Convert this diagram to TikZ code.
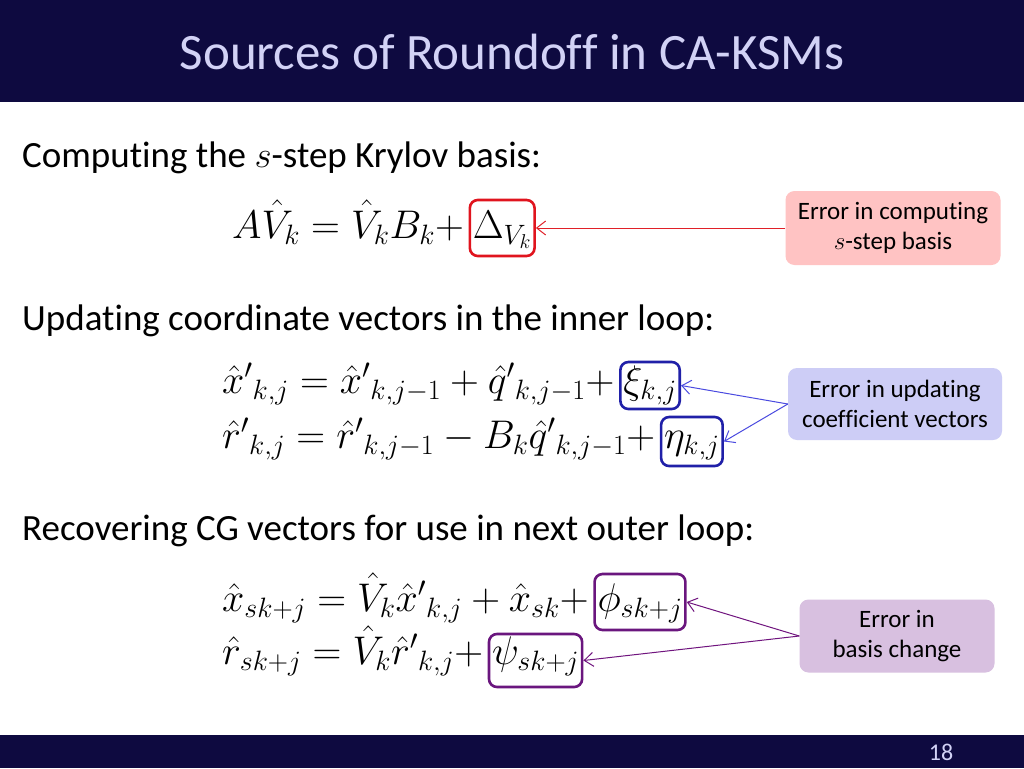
\RequirePackage{fix-cm}
\documentclass[tikz,border=0pt]{standalone}
\usepackage{amsmath}
\usepackage{fontspec}
\setmainfont{Carlito}[Ligatures=NoCommon]
\usetikzlibrary{arrows.meta}
\definecolor{navy}{HTML}{0E0A40}
\definecolor{titletext}{HTML}{D2D2F6}
\definecolor{pinkbox}{HTML}{FFC3C3}
\definecolor{bluebox}{HTML}{CDCDF6}
\definecolor{purplebox}{HTML}{D8C0E0}
\definecolor{boxred}{HTML}{E0141E}
\definecolor{boxblue}{HTML}{2020A8}
\definecolor{boxpurple}{HTML}{6A167E}
\definecolor{arrred}{HTML}{E02028}
\definecolor{arrblue}{HTML}{4A4AE0}
\definecolor{arrpurple}{HTML}{70147E}
\newcommand{\pr}[1]{{#1'}{}}
\newcommand{\pl}{+\mkern2mu}
\tikzset{
  bodytext/.style={anchor=base west, inner sep=0pt, font=\fontsize{37}{44}\selectfont},
  eqn/.style={anchor=base west, inner sep=0pt, font=\fontsize{40}{48}\selectfont},
  errbox/.style={anchor=base west, draw, line width=2.6pt, rounded corners=8pt, inner xsep=3pt, inner ysep=4pt, font=\fontsize{40}{48}\selectfont},
  callout/.style={rounded corners=9pt, align=center, font=\fontsize{25}{30}\selectfont, text=black},
  link/.style={line width=1pt, -{Straight Barb[length=9pt,width=14pt]}}
}
\begin{document}
\begin{tikzpicture}[x=1pt,y=-1pt]
\useasboundingbox (0,0) rectangle (1024,768);
\fill[white] (0,0) rectangle (1024,768);
\fill[navy] (0,0) rectangle (1024,102);
\fill[navy] (0,735) rectangle (1024,768);
\node (title) [anchor=base, inner sep=0pt, text=titletext, font=\fontsize{51}{60}\selectfont] at (512,70) {Sources of Roundoff in CA-KSMs};
\node (page) [anchor=base, inner sep=0pt, text=titletext, font=\fontsize{24}{28}\selectfont] at (941,760) {18};

% section 1
\node (h1) [bodytext] at (22,167) {Computing the $s$-step Krylov basis:};
\node (eq1) [eqn] at (232,238) {$A\hat{V}_k = \hat{V}_k B_k \pl$};
\node (d1) [errbox, draw=boxred, text height=34pt, text depth=14pt] at (eq1.base east) {$\Delta_{V_k}$};
\node (c1) [callout, fill=pinkbox, minimum width=215pt, minimum height=74pt] at (893,228) {Error in computing\\$s$-step basis};
\draw[link, arrred] (c1.west) -- (d1.east);

% section 2
\node (h2) [bodytext] at (22,330) {Updating coordinate vectors in the inner loop:};
\node (eq2a) [eqn] at (222,393) {$\pr{\hat{x}}_{k,j} = \pr{\hat{x}}_{k,j-1} + \pr{\hat{q}}_{k,j-1} \pl$};
\node (xi) [errbox, draw=boxblue, text height=27pt, text depth=12pt] at (eq2a.base east) {$\xi_{k,j}$};
\node (eq2b) [eqn] at (222,448) {$\pr{\hat{r}}_{k,j} = \pr{\hat{r}}_{k,j-1} - B_k\pr{\hat{q}}_{k,j-1} \pl$};
\node (eta) [errbox, draw=boxblue, text height=27pt, text depth=14pt] at (eq2b.base east) {$\eta_{k,j}$};
\node (c2) [callout, fill=bluebox, minimum width=214pt, minimum height=72pt] at (895,404) {Error in updating\\coefficient vectors};
\draw[link, arrblue] (c2.west) -- (xi.east);
\draw[link, arrblue] (c2.west) -- (eta.east);

% section 3
\node (h3) [bodytext] at (22,540) {Recovering CG vectors for use in next outer loop:};
\node (eq3a) [eqn] at (222,611) {$\hat{x}_{sk+j} = \hat{V}_k\pr{\hat{x}}_{k,j} + \hat{x}_{sk} \pl$};
\node (phi) [errbox, draw=boxpurple, text height=33pt, text depth=15pt] at (eq3a.base east) {$\phi_{sk+j}$};
\node (eq3b) [eqn] at (222,664) {$\hat{r}_{sk+j} = \hat{V}_k\pr{\hat{r}}_{k,j} \pl$};
\node (psi) [errbox, draw=boxpurple, text height=26pt, text depth=19pt] at (eq3b.base east) {$\psi_{sk+j}$};
\node (c3) [callout, fill=purplebox, minimum width=195pt, minimum height=73pt] at (897,636) {Error in\\basis change};
\draw[link, arrpurple] (c3.west) -- (phi.east);
\draw[link, arrpurple] (c3.west) -- (psi.east);
\end{tikzpicture}
\end{document}
